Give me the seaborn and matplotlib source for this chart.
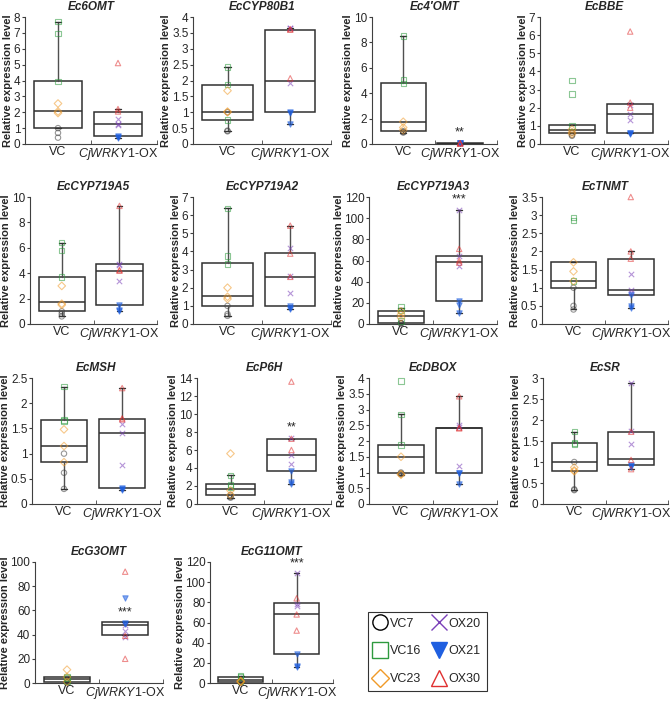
import numpy as np
import pandas as pd
import matplotlib
matplotlib.use('Agg')
import matplotlib.pyplot as plt
from matplotlib.lines import Line2D
from matplotlib.ticker import FuncFormatter, MultipleLocator
import seaborn as sns

# panel titles, axis ranges
genes = ['Ec6OMT', 'EcCYP80B1', 'Ec4\u2032OMT', 'EcBBE',
         'EcCYP719A5', 'EcCYP719A2', 'EcCYP719A3', 'EcTNMT',
         'EcMSH', 'EcP6H', 'EcDBOX', 'EcSR',
         'EcG3OMT', 'EcG11OMT']
ymax = [8, 4, 10, 7, 10, 7, 120, 3.5, 2.5, 14, 4, 3, 100, 120]
ystep = [1, 0.5, 2, 1, 2, 1, 20, 0.5, 0.5, 2, 0.5, 0.5, 20, 20]
signif = ['', '', '**', '', '', '', '***', '', '', '**', '', '', '***', '***']
signif_y = [0, 0, 0.9, 0, 0, 0, 118, 0, 0, 8.5, 0, 0, 58, 119]

# replicate values of each line, per gene
VC7 = [[1.0, 0.7, 0.4], [1.0, 0.42, 0.4], [1.0, 0.95, 0.9], [0.62, 0.5, 0.45],
       [1.0, 0.8, 0.6], [1.0, 0.55, 0.45], [1.0, 0.8, 0.5], [1.0, 0.5, 0.4],
       [1.0, 0.62, 0.3], [1.0, 0.8, 0.7], [1.0, 0.97, 0.95], [1.0, 0.35, 0.33],
       [1.0, 0.8, 0.6], [1.0, 0.8, 0.6]]
VC16 = [[7.7, 6.95, 3.95], [2.42, 1.88, 0.75], [8.5, 5.05, 4.75], [3.5, 2.75, 1.0],
        [6.4, 5.8, 3.7], [6.38, 3.75, 3.3], [16, 13, 3], [2.93, 2.85, 1.18],
        [2.33, 1.67, 1.65], [3.2, 2.2, 1.9], [3.9, 2.85, 1.87], [1.73, 1.45, 1.43],
        [5, 4, 1], [7.5, 6, 2]]
VC23 = [[2.55, 2.05, 1.95], [1.68, 1.02, 1.0], [1.75, 1.3, 1.1], [0.8, 0.65, 0.55],
        [3.0, 1.6, 1.5], [2.0, 1.5, 1.38], [12, 9, 6], [1.7, 1.45, 1.18],
        [1.48, 1.15, 0.83], [5.6, 1.5, 1.0], [1.5, 0.95, 0.93], [0.87, 0.8, 0.78],
        [11, 5, 1], [2, 1.5, 1]]
OX20 = [[1.55, 1.25, 1.2], [3.66, 3.65, 1.93], [0.05, 0.05, 0.05], [2.15, 1.65, 1.35],
        [4.7, 4.65, 3.35], [4.2, 2.62, 1.7], [108, 64, 55], [1.38, 0.95, 0.85],
        [1.58, 1.41, 0.77], [7.3, 5.5, 4.4], [2.5, 2.45, 1.2], [2.88, 1.73, 1.42],
        [48, 43, 38], [109, 78, 76]]
OX21 = [[0.5, 0.45, 0.4], [1.0, 0.98, 0.63], [0.04, 0.04, 0.04], [0.6, 0.58, 0.55],
        [1.5, 1.1, 1.05], [1.0, 0.9, 0.8], [22, 18, 10], [0.8, 0.5, 0.45],
        [0.32, 0.3, 0.28], [3.7, 2.4, 2.2], [1.0, 0.97, 0.62], [0.92, 0.9, 0.88],
        [70, 50, 49], [29, 17, 16]]
OX30 = [[5.1, 2.2, 2.05], [3.62, 3.6, 2.07], [0.05, 0.05, 0.05], [6.2, 2.28, 2.0],
        [9.3, 4.25, 4.2], [5.42, 3.88, 2.6], [71, 60, 58], [3.5, 2.0, 1.8],
        [2.3, 1.7, 1.68], [13.6, 7.25, 6.0], [3.42, 2.42, 2.4], [1.72, 1.05, 0.83],
        [92, 39, 20], [84, 68, 52]]

# box statistics as drawn: (q1, median, q3, whisker low, whisker high)
vc_box = [(1.0, 2.1, 3.95, 1.0, 7.7), (0.75, 1.02, 1.85, 0.4, 2.42),
          (1.0, 1.75, 4.8, 0.9, 8.5), (0.62, 0.78, 1.05, 0.62, 1.05),
          (1.0, 1.7, 3.7, 0.6, 6.4), (1.0, 1.52, 3.35, 0.45, 6.38),
          (1.0, 8.0, 12.0, 1.0, 15.0), (1.0, 1.18, 1.7, 0.4, 1.7),
          (0.83, 1.15, 1.67, 0.3, 2.32), (1.0, 1.7, 2.2, 0.7, 3.2),
          (1.0, 1.5, 1.87, 0.93, 2.85), (0.78, 1.0, 1.45, 0.33, 1.72),
          (0.8, 3.5, 4.8, 0.8, 4.8), (1.0, 2.5, 6.0, 1.0, 7.0)]
ox_box = [(0.5, 1.25, 2.0, 0.4, 2.2), (1.0, 1.97, 3.6, 0.63, 3.65),
          (0.0, 0.03, 0.06, 0.0, 0.06), (0.58, 1.65, 2.18, 0.58, 2.28),
          (1.5, 4.2, 4.7, 1.05, 9.3), (1.0, 2.58, 3.9, 0.8, 5.42),
          (22, 59, 64, 10, 108), (0.8, 0.95, 1.8, 0.45, 2.0),
          (0.32, 1.41, 1.68, 0.28, 2.3), (3.7, 5.5, 7.25, 2.2, 7.25),
          (1.0, 2.4, 2.42, 0.62, 3.42), (0.92, 1.07, 1.72, 0.83, 2.88),
          (39.5, 48, 50.5, 39.5, 50.5), (29, 68, 79, 16, 109)]

lines = ['VC7', 'VC16', 'VC23', 'OX20', 'OX21', 'OX30']
line_vals = [VC7, VC16, VC23, OX20, OX21, OX30]
line_group = [1, 1, 1, 2, 2, 2]
line_color = ['#404040', '#2e9a3e', '#f09a28', '#7a3fb8', '#1f5fe0', '#e03030']
line_marker = ['o', 's', 'D', 'x', 'v', '^']
line_filled = [False, False, False, True, True, False]

sns.set_style('ticks')
plt.rcParams['font.family'] = ['Liberation Sans', 'DejaVu Sans']
plt.rcParams['mathtext.fontset'] = 'custom'
plt.rcParams['mathtext.it'] = 'Liberation Sans:italic'
plt.rcParams['mathtext.rm'] = 'Liberation Sans'

W, H = 671, 704
fig = plt.figure(figsize=(W / 100, H / 100), dpi=100)
# plot areas in pixels: (left, right) per panel, (top, bottom) per row
panel_x = [(25, 157), (193, 331), (372, 497), (540, 668),
           (30, 157), (193, 331), (369, 497), (542, 668),
           (32, 160), (197, 331), (369, 497), (543, 668),
           (35, 163), (210, 333)]
row_y = [(17, 144), (197, 324), (378, 504), (562, 683)]
XL = (0.45, 2.65)

for i, gene in enumerate(genes):
    r = i // 4
    x0, x1 = panel_x[i]
    y0, y1 = row_y[r]
    ax = fig.add_axes([x0 / W, 1 - y1 / H, (x1 - x0) / W, (y1 - y0) / H])

    stats = []
    for b in (vc_box[i], ox_box[i]):
        stats.append({'q1': b[0], 'med': b[1], 'q3': b[2],
                      'whislo': b[3], 'whishi': b[4], 'fliers': []})
    ax.bxp(stats, positions=[1, 2], widths=0.8, capwidths=0.1,
           showfliers=False, patch_artist=True,
           boxprops=dict(facecolor='white', edgecolor='#303030', lw=1.1),
           medianprops=dict(color='#303030', lw=1.1),
           whiskerprops=dict(color='#505050', lw=1.0),
           capprops=dict(color='#303030', lw=1.0))

    # replicate points of each line
    for name, vals, grp, col, mk, filled in zip(lines, line_vals, line_group,
                                                line_color, line_marker, line_filled):
        df = pd.DataFrame({'pos': [grp] * 3, 'value': vals[i]})
        if filled:
            sns.scatterplot(data=df, x='pos', y='value', marker=mk, s=15,
                            color=col, edgecolor=col, linewidth=0.8,
                            alpha=0.55, ax=ax, legend=False, zorder=3,
                            clip_on=False)
        else:
            sns.scatterplot(data=df, x='pos', y='value', marker=mk, s=15,
                            color=col, facecolor='none', edgecolor=col,
                            linewidth=0.8, alpha=0.55, ax=ax, legend=False,
                            zorder=3, clip_on=False)

    if signif[i]:
        ax.text(2, signif_y[i], signif[i], ha='center', va='center', fontsize=9)

    ax.set_xlim(*XL)
    ax.set_ylim(0, ymax[i])
    ax.yaxis.set_major_locator(MultipleLocator(ystep[i]))
    ax.yaxis.set_major_formatter(FuncFormatter(lambda v, p: f'{v:g}'))
    ax.set_xticks([1, 2])
    ax.set_xticklabels(['VC', r'$\mathit{CjWRKY1}$-OX'], fontsize=9)
    ax.set_xticks([(XL[0] + XL[1]) / 2, XL[1]], minor=True)
    ax.tick_params(axis='x', which='major', length=0, pad=1.5)
    ax.tick_params(axis='x', which='minor', length=3, direction='in', color='#404040')
    ax.tick_params(axis='y', length=2.5, labelsize=8.5, pad=0.8, color='#404040')
    ax.set_xlabel('')
    ax.set_ylabel('Relative expression level', fontsize=8, fontweight='bold', labelpad=0.5)
    ax.set_title(gene, fontsize=8.5, fontweight='bold', style='italic', pad=5)
    for side in ['top', 'right']:
        ax.spines[side].set_visible(False)
    for side in ['left', 'bottom']:
        ax.spines[side].set_color('#404040')
        ax.spines[side].set_linewidth(0.8)

handles = []
for name, col, mk, filled in zip(lines, line_color, line_marker, line_filled):
    if mk == 'x':
        h = Line2D([], [], ls='', marker=mk, markersize=11, color=col, mew=1.0)
    elif filled:
        h = Line2D([], [], ls='', marker=mk, markersize=11, color=col,
                   markerfacecolor=col, markeredgecolor=col)
    else:
        h = Line2D([], [], ls='', marker=mk, markersize=11 if mk != 'D' else 9,
                   markerfacecolor='none', markeredgecolor=col if name != 'VC7' else 'black',
                   mew=1.0)
    handles.append(h)
leg = fig.legend(handles, lines, loc='upper left', bbox_to_anchor=(368 / W, 1 - 612 / H),
                 ncol=2, fontsize=9, frameon=True, fancybox=False,
                 handlelength=1.0, handletextpad=0.3, columnspacing=0.9,
                 labelspacing=1.25, borderpad=0.45, borderaxespad=0)
leg.get_frame().set_edgecolor('black')
leg.get_frame().set_linewidth(0.8)

fig.savefig('out.png', dpi=100)
